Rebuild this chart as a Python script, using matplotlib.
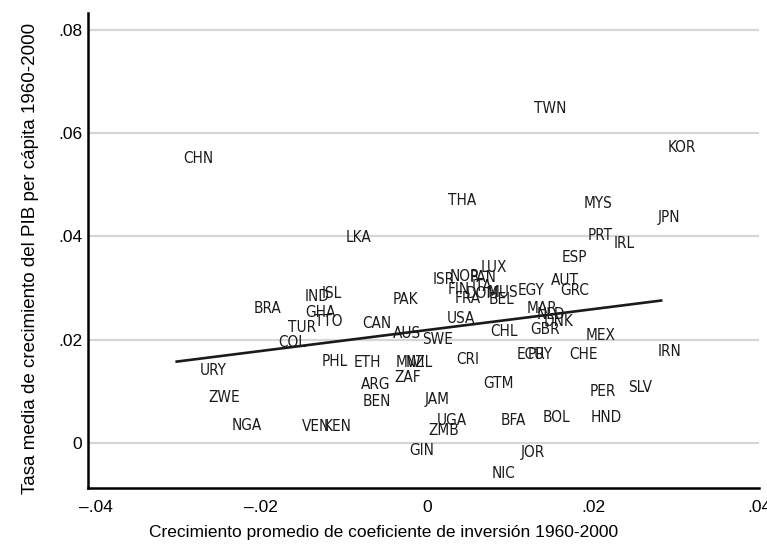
import numpy as np
import matplotlib
matplotlib.use("Agg")
import matplotlib.pyplot as plt
from matplotlib import font_manager
from matplotlib.font_manager import FontProperties

# country codes with investment-ratio growth (x) and GDP per capita growth (y), 1960-2000
codes = ["TWN", "KOR", "CHN", "THA", "MYS", "JPN", "PRT", "IRL", "LKA", "ESP",
         "AUT", "GRC", "EGY", "LUX", "ISR", "NOR", "PAN", "FIN", "ITA", "FRA",
         "DOM", "MUS", "BEL", "IND", "ISL", "BRA", "PAK", "GHA", "TTO", "TUR",
         "COL", "CAN", "USA", "AUS", "SWE", "MAR", "NLD", "DNK", "GBR", "CHL",
         "MEX", "CHE", "IRN", "ECU", "PRY", "CRI", "PHL", "ETH", "MWI", "NZL",
         "ZAF", "URY", "ZWE", "ARG", "BEN", "GTM", "PER", "SLV", "JAM", "NGA",
         "VEN", "KEN", "UGA", "ZMB", "BFA", "BOL", "HND", "GIN", "JOR", "NIC"]
inv_growth = [0.0121, 0.0282, -0.0302, 0.0017, 0.0181, 0.0270, 0.0186, 0.0217, -0.0106, 0.0155,
              0.0142, 0.0153, 0.0101, 0.0057, -0.0001, 0.0019, 0.0043, 0.0017, 0.0046, 0.0025,
              0.0039, 0.0065, 0.0067, -0.0155, -0.0135, -0.0217, -0.0049, -0.0155, -0.0143, -0.0175,
              -0.0187, -0.0086, 0.0016, -0.0049, -0.0014, 0.0112, 0.0124, 0.0133, 0.0117, 0.0069,
              0.0184, 0.0164, 0.0270, 0.0100, 0.0113, 0.0027, -0.0135, -0.0096, -0.0046, -0.0034,
              -0.0047, -0.0282, -0.0271, -0.0088, -0.0086, 0.0060, 0.0188, 0.0235, -0.0011, -0.0243,
              -0.0159, -0.0133, 0.0004, -0.0006, 0.0081, 0.0131, 0.0189, -0.0029, 0.0105, 0.0070]
gdp_growth = [0.0649, 0.0573, 0.0552, 0.0469, 0.0463, 0.0437, 0.0401, 0.0387, 0.0397, 0.0360,
              0.0315, 0.0296, 0.0296, 0.0339, 0.0317, 0.0323, 0.0321, 0.0298, 0.0302, 0.0279,
              0.0290, 0.0292, 0.0277, 0.0284, 0.0290, 0.0261, 0.0277, 0.0252, 0.0234, 0.0224,
              0.0195, 0.0232, 0.0240, 0.0211, 0.0201, 0.0261, 0.0249, 0.0234, 0.0220, 0.0215,
              0.0207, 0.0170, 0.0176, 0.0170, 0.0170, 0.0162, 0.0158, 0.0155, 0.0156, 0.0156,
              0.0127, 0.0139, 0.0087, 0.0112, 0.0079, 0.0114, 0.0100, 0.0106, 0.0083, 0.0034,
              0.0031, 0.0031, 0.0042, 0.0023, 0.0042, 0.0048, 0.0048, -0.0016, -0.0020, -0.0059]

xticks = [-0.04, -0.02, 0, 0.02, 0.04]
xticklabels = ["\u2013.04", "\u2013.02", "0", ".02", ".04"]
yticks = [0, 0.02, 0.04, 0.06, 0.08]
yticklabels = ["0", ".02", ".04", ".06", ".08"]

plt.rcParams["font.family"] = ["Liberation Sans", "DejaVu Sans"]

# narrow face for the country codes, if one is installed
label_font = FontProperties(family="Liberation Sans", size=10.5)
files = [f.fname for f in font_manager.fontManager.ttflist]
for key in ["LiberationSansNarrow-Regular", "DejaVuSansCondensed.ttf"]:
    hit = [p for p in files if key in p]
    if hit:
        label_font = FontProperties(fname=hit[0], size=11)
        break

x = np.array(inv_growth)
y = np.array(gdp_growth)

fig = plt.figure(figsize=(7.67, 5.57), dpi=100)
ax = fig.add_axes([0.1147, 0.1239, 0.8749, 0.8533])

for v in yticks:
    ax.axhline(v, color="#d6d6d6", lw=1.6, zorder=0)

for c, xi, yi in zip(codes, x, y):
    ax.annotate(c, (xi, yi), xytext=(4.5, 0), textcoords="offset points",
                ha="left", va="center", fontproperties=label_font, color="#1a1a1a")

# linear fit over the observed range
b, a = np.polyfit(x, y, 1)
xs = np.array([x.min(), x.max()])
ax.plot(xs, a + b * xs, color="#1a1a1a", lw=1.9)

ax.set_xlim(-0.0409, 0.0400)
ax.set_ylim(-0.0088, 0.0834)
ax.set_xticks(xticks)
ax.set_xticklabels(xticklabels)
ax.set_yticks(yticks)
ax.set_yticklabels(yticklabels)
ax.tick_params(axis="both", length=0, labelsize=12.5)
ax.tick_params(axis="x", pad=9)
ax.tick_params(axis="y", pad=4)

for s in ["top", "right"]:
    ax.spines[s].set_visible(False)
for s in ["left", "bottom"]:
    ax.spines[s].set_linewidth(1.8)

ax.set_xlabel("Crecimiento promedio de coeficiente de inversión 1960-2000", fontsize=12.5)
ax.xaxis.set_label_coords(0.44, -0.078)
ax.set_ylabel("Tasa media de crecimiento del PIB per cápita 1960-2000", fontsize=13.5)
ax.yaxis.set_label_coords(-0.073, 0.484)

fig.savefig("out.png", dpi=100)
